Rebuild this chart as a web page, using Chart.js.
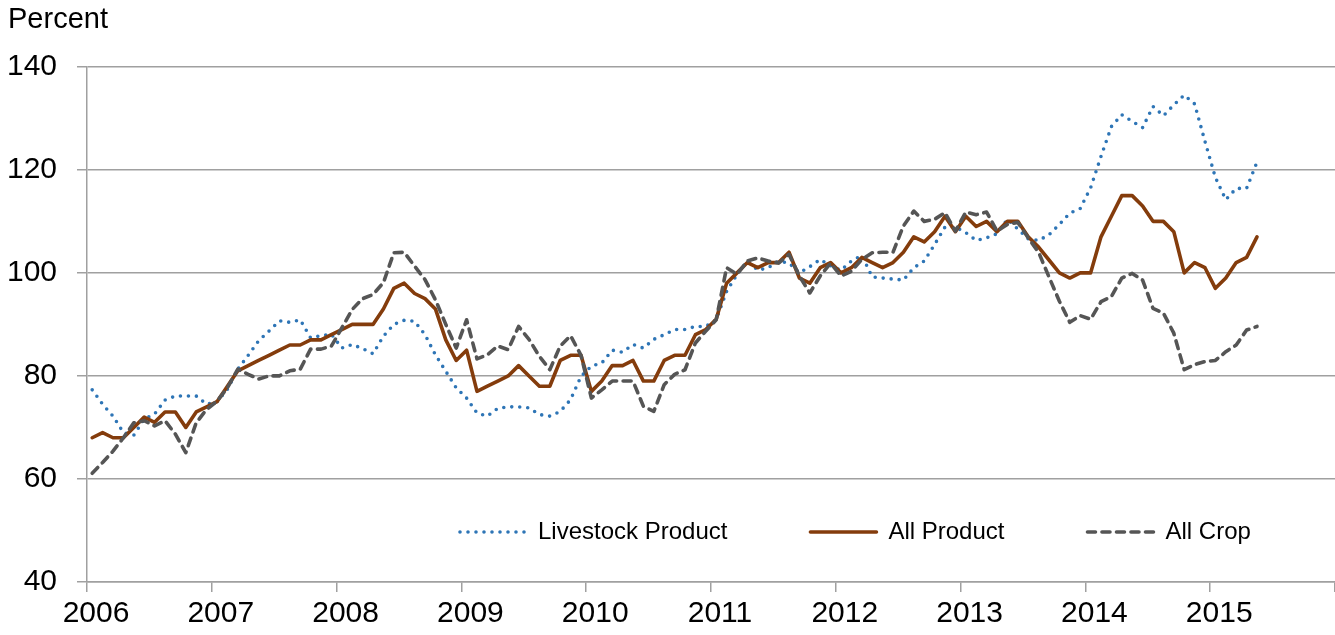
<!DOCTYPE html>
<html>
<head>
<meta charset="utf-8">
<script src="https://cdn.jsdelivr.net/npm/chart.js@4.4.1/dist/chart.umd.min.js"></script>
<style>
  html, body { margin: 0; padding: 0; background: #fff; }
</style>
</head>
<body>
<canvas id="priceChart" width="1335" height="635"></canvas>
<script>
// monthly values, Jan 2006 .. May 2015
const yearLabels = ['2006', '2007', '2008', '2009', '2010', '2011', '2012', '2013', '2014', '2015'];
const seriesNames = ['Livestock Product', 'All Product', 'All Crop'];

const livestockProduct = [
    77.3, 74.5, 72.2, 69, 68.5, 71.6, 72.6, 75.3, 76.1, 76.1, 76.1, 74.5,
    75, 77.4, 81.3, 84, 86.8, 88.7, 90.7, 90.4, 90.9, 87.4, 87.8, 88.1,
    85.4, 86.1, 85.3, 84.3, 87.7, 90, 90.8, 90.6, 88, 84.1, 80.9, 77.7,
    75.7, 72.8, 72.2, 73.7, 74, 74, 73.8, 72.5, 72.2, 73.1, 75.4, 79.9,
    81.9, 82.5, 85, 84.6, 86.1, 85.4, 87.1, 88, 89, 89, 89.6, 89.6,
    90.9, 96.4, 99.7, 102.3, 100.5, 101, 102.3, 101.9, 100, 101.2, 102.6, 101.4,
    100.5, 102.3, 103.4, 99.2, 99, 98.8, 98.6, 101, 102.3, 105.5, 108.9, 108.9,
    107.8, 106.3, 106.8, 107.6, 110.4, 108.5, 106.6, 106.3, 107.4, 109.4, 111.6, 112.5,
    116.5, 122.6, 128.4, 130.7, 129.4, 128.2, 132.3, 130.5, 132.6, 134.5, 132.8, 125.5,
    118.5, 114.2, 116.4, 116.4, 121.5
];

const allProduct = [
    68, 69, 68, 68, 70, 72, 71, 73, 73, 70, 73, 74,
    75, 78, 81, 82, 83, 84, 85, 86, 86, 87, 87, 88,
    89, 90, 90, 90, 93, 97, 98, 96, 95, 93, 87, 83,
    85, 77, 78, 79, 80, 82, 80, 78, 78, 83, 84, 84,
    77, 79, 82, 82, 83, 79, 79, 83, 84, 84, 88, 89,
    91, 98, 100, 102, 101, 102, 102, 104, 99, 98, 101, 102,
    100, 101, 103, 102, 101, 102, 104, 107, 106, 108, 111, 108,
    111, 109, 110, 108, 110, 110, 107, 105, 102.5, 100, 99, 100,
    100, 107, 111, 115, 115, 113, 110, 110, 108, 100, 102, 101,
    97, 99, 102, 103, 107
];

const allCrop = [
    61.1, 63.2, 65.4, 68, 70.9, 71.3, 70.3, 71.3, 68.7, 65.1, 70.9, 73.5,
    75.1, 77.7, 81.3, 80.3, 79.4, 80, 80, 81, 81.3, 85.2, 85.2, 85.8,
    89.3, 92.9, 95, 95.8, 98.1, 103.9, 104, 101.3, 98.7, 94.8, 90, 85.4,
    90.9, 83.3, 84.1, 85.8, 85.1, 89.6, 87.1, 83.8, 81.2, 85.8, 87.8, 84,
    75.7, 77.3, 79, 79, 79, 74.1, 73.1, 78.3, 80.3, 81.2, 86.4, 88.7,
    90.9, 101, 99.7, 102.3, 102.9, 102.3, 101.9, 103.6, 99.4, 96.1, 99.4, 101.9,
    99.4, 100.3, 102.6, 103.9, 104, 104, 109.1, 112, 110, 110.4, 111.7, 108.1,
    111.8, 111.3, 111.8, 108.1, 109.4, 109.8, 106.8, 104, 99.2, 94.5, 90.4, 91.7,
    91, 94.4, 95.4, 99, 99.9, 98.6, 93.1, 92.2, 88.3, 81.2, 82.2, 82.8,
    83, 84.7, 86, 88.9, 89.6
];

// month index -> centre of that month on the x scale
const toPoints = values => values.map((v, i) => ({ x: i + 0.5, y: v }));

Chart.defaults.font.family = "'Liberation Sans', Arial, sans-serif";
Chart.defaults.color = '#000';

const axisGrey = '#a0a0a0';

// legend drawn inside the plot area, near the bottom
const insideLegend = {
    id: 'insideLegend',
    afterDraw(chart, args, opts) {
        const ctx = chart.ctx;
        ctx.save();
        ctx.font = opts.fontSize + 'px ' + Chart.defaults.font.family;
        ctx.textBaseline = 'middle';
        let x = opts.x;
        chart.data.datasets.forEach(ds => {
            ctx.beginPath();
            ctx.strokeStyle = ds.borderColor;
            ctx.lineWidth = ds.borderWidth;
            ctx.lineCap = ds.borderCapStyle || 'butt';
            ctx.setLineDash(ds.borderDash || []);
            ctx.moveTo(x, opts.y);
            ctx.lineTo(x + opts.sampleWidth, opts.y);
            ctx.stroke();
            ctx.setLineDash([]);
            const textX = x + opts.sampleWidth + opts.gap;
            ctx.fillStyle = '#000';
            ctx.fillText(ds.label, textX, opts.y);
            x = textX + ctx.measureText(ds.label).width + opts.spacing;
        });
        ctx.restore();
    }
};

const ctx = document.getElementById('priceChart').getContext('2d');

new Chart(ctx, {
    type: 'line',
    data: {
        datasets: [
            {
                label: seriesNames[0],
                data: toPoints(livestockProduct),
                borderColor: '#2e75b6',
                borderWidth: 3.6,
                borderDash: [0, 8],
                borderCapStyle: 'round',
                borderJoinStyle: 'round',
                order: 2
            },
            {
                label: seriesNames[1],
                data: toPoints(allProduct),
                borderColor: '#843c0c',
                borderWidth: 3.6,
                borderCapStyle: 'round',
                borderJoinStyle: 'round',
                order: 1
            },
            {
                label: seriesNames[2],
                data: toPoints(allCrop),
                borderColor: '#555555',
                borderWidth: 3.6,
                borderDash: [8, 6.5],
                borderCapStyle: 'round',
                borderJoinStyle: 'round',
                order: 0
            }
        ]
    },
    options: {
        responsive: false,
        animation: false,
        devicePixelRatio: 1,
        layout: {
            autoPadding: false,
            padding: { left: 8, right: 0, top: 0, bottom: 0 }
        },
        elements: {
            point: { radius: 0 },
            line: { tension: 0 }
        },
        scales: {
            x: {
                type: 'linear',
                min: 0,
                max: 120,
                ticks: {
                    stepSize: 12,
                    autoSkip: false,
                    maxRotation: 0,
                    labelOffset: 9,
                    padding: 4,
                    font: { size: 30 },
                    callback: v => yearLabels[v / 12] || ''
                },
                grid: {
                    drawOnChartArea: false,
                    tickLength: 10,
                    color: axisGrey,
                    lineWidth: 1.5
                },
                border: { color: axisGrey, width: 1.5 },
                afterFit: scale => {
                    scale.height = 53;
                    scale.paddingRight = 0; // plot runs right up to the edge
                }
            },
            y: {
                min: 40,
                max: 140,
                ticks: {
                    stepSize: 20,
                    padding: 20,
                    font: { size: 30 }
                },
                grid: {
                    color: axisGrey,
                    lineWidth: 1.5,
                    tickLength: 10
                },
                border: { color: axisGrey, width: 1.5 },
                afterFit: scale => { scale.width = 79; }
            }
        },
        plugins: {
            legend: { display: false },
            tooltip: { enabled: false },
            title: {
                display: true,
                text: 'Percent',
                align: 'start',
                color: '#000',
                font: { size: 29, weight: 'normal' },
                padding: { top: 3, bottom: 29 }
            },
            insideLegend: {
                x: 460,
                y: 532,
                sampleWidth: 66,
                gap: 12,
                spacing: 83,
                fontSize: 24
            }
        }
    },
    plugins: [insideLegend]
});
</script>
</body>
</html>
